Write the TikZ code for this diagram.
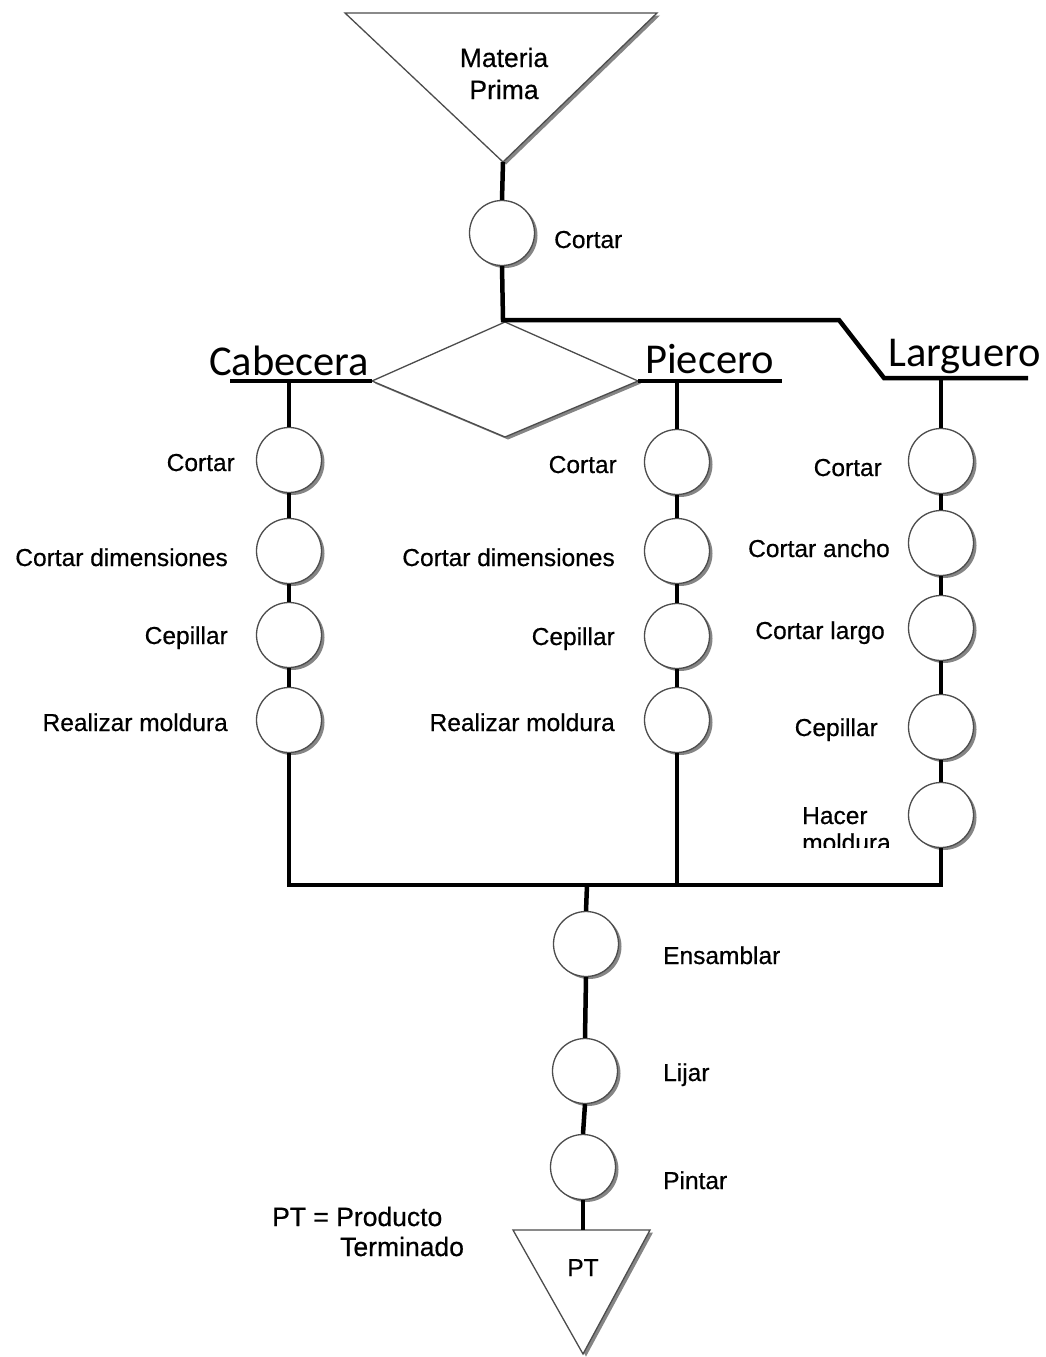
\documentclass[tikz,border=0pt]{standalone}
\usepackage{fontspec}
\setmainfont{Liberation Sans}
\newfontfamily\lblfont[FakeBold=0.5]{Liberation Sans}
\newfontfamily\hdrfont{Carlito}
\usetikzlibrary{shadows}

\begin{document}
\begin{tikzpicture}[x=1pt,y=-1pt,
  conn/.style={line width=4.5pt, black},
  shp/.style={draw=black!70, line width=1.3pt, fill=white,
    drop shadow={shadow xshift=3pt, shadow yshift=-2.5pt, fill=black!60, opacity=0.8}},
  opc/.style={circle, shp, minimum size=65pt, inner sep=0pt},
  lbl/.style={font=\lblfont\fontsize{24.5}{29}\selectfont, inner sep=0pt},
  big/.style={font=\lblfont\fontsize{26.5}{31}\selectfont},
  lblR/.style={lbl, anchor=base east},
  lblL/.style={lbl, anchor=base west},
  hdr/.style={font=\hdrfont\fontsize{42.5}{50}\selectfont, inner sep=0pt, anchor=base west}]

\useasboundingbox (0,0) rectangle (1046,1357);

% storage triangles and decision diamond
\path[shp] (345,13) -- (657,13) -- (503,162) -- cycle;
\coordinate (mpApex) at (503,162);
\path[shp] (513,1230) -- (650,1230) -- (583,1354) -- cycle;
\coordinate (ptTop) at (583,1230);
\path[shp] (505,322) -- (638,381) -- (505,437) -- (372,381) -- cycle;
\coordinate (dL) at (372,381);
\coordinate (dR) at (638,381);

\node[lbl, big, anchor=base] (mp1) at (504,67) {Materia};
\node[lbl, big, anchor=base] (mp2) at (504,99) {Prima};
\node[lbl, anchor=base] (pt) at (583,1276) {PT};

% operations
\node[opc] (c0) at (502,233) {};

\node[opc] (a1) at (289,460) {};
\node[opc] (a2) at (289,551) {};
\node[opc] (a3) at (289,635) {};
\node[opc] (a4) at (289,720) {};

\node[opc] (b1) at (677,462) {};
\node[opc] (b2) at (677,551) {};
\node[opc] (b3) at (677,636) {};
\node[opc] (b4) at (677,720) {};

\node[opc] (l1) at (941,461) {};
\node[opc] (l2) at (941,543) {};
\node[opc] (l3) at (941,628) {};
\node[opc] (l4) at (941,727) {};
\node[opc] (l5) at (941,815) {};

\node[opc] (e1) at (586,944) {};
\node[opc] (e2) at (585,1071) {};
\node[opc] (e3) at (583,1167) {};

% branch bars
\coordinate (split) at (503,320);
\coordinate (bend) at (839,320);
\coordinate (lgL) at (884,378);
\coordinate (lgR) at (1028,378);
\coordinate (cbL) at (230,381);
\coordinate (pbR) at (782,381);
\coordinate (mergeL) at (289,885);
\coordinate (mergeR) at (941,885);
\coordinate (mergeC) at (587,885);

\draw[conn] (mpApex) -- (c0.north);
\draw[conn] (c0.south) -- (split) -- (bend) -- (lgL) -- (lgR);
\draw[conn] (cbL) -- (dL);
\draw[conn] (dR) -- (pbR);

\draw[conn] (a1.north |- cbL) -- (a1.north);
\draw[conn] (a1.south) -- (a2.north);
\draw[conn] (a2.south) -- (a3.north);
\draw[conn] (a3.south) -- (a4.north);

\draw[conn] (b1.north |- pbR) -- (b1.north);
\draw[conn] (b1.south) -- (b2.north);
\draw[conn] (b2.south) -- (b3.north);
\draw[conn] (b3.south) -- (b4.north);

\draw[conn] (l1.north |- lgR) -- (l1.north);
\draw[conn] (l1.south) -- (l2.north);
\draw[conn] (l2.south) -- (l3.north);
\draw[conn] (l3.south) -- (l4.north);
\draw[conn] (l4.south) -- (l5.north);

\draw[conn] (a4.south) -- (mergeL) -- (mergeR) -- (l5.south);
\draw[conn] (b4.south) -- (b4.south |- mergeL);
\draw[conn] (mergeC) -- (e1.north);
\draw[conn] (e1.south) -- (e2.north);
\draw[conn] (e2.south) -- (e3.north);
\draw[conn] (e3.south) -- (ptTop);

% headings
\node[hdr] (hCab) at (209,375) {Cabecera};
\node[hdr] (hPie) at (645,373) {Piecero};
\node[hdr] (hLar) at (888,366) {Larguero};

% operation labels
\node[lblL] (tc0) at (554,248) {Cortar};

\node[lblR] (ta1) at (235,471) {Cortar};
\node[lblR] (ta2) at (228,566) {Cortar dimensiones};
\node[lblR] (ta3) at (228,644) {Cepillar};
\node[lblR] (ta4) at (228,731) {Realizar moldura};

\node[lblR] (tb1) at (617,473) {Cortar};
\node[lblR] (tb2) at (615,566) {Cortar dimensiones};
\node[lblR] (tb3) at (615,645) {Cepillar};
\node[lblR] (tb4) at (615,731) {Realizar moldura};

\node[lblR] (tl1) at (882,476) {Cortar};
\node[lblR] (tl2) at (890,557) {Cortar ancho};
\node[lblR] (tl3) at (885,639) {Cortar largo};
\node[lblR] (tl4) at (878,736) {Cepillar};
\node[lblL] (tl5a) at (802,824) {Hacer};
\begin{scope}
  \clip (790,800) rectangle (900,847);
  \node[lblL] (tl5b) at (802,851) {moldura};
\end{scope}

\node[lblL] (te1) at (663,964) {Ensamblar};
\node[lblL] (te2) at (663,1081) {Lijar};
\node[lblL] (te3) at (663,1189) {Pintar};

\node[lblL, big] (leg1) at (272,1226) {PT = Producto};
\node[lblL, big] (leg2) at (340,1256) {Terminado};

\end{tikzpicture}
\end{document}
